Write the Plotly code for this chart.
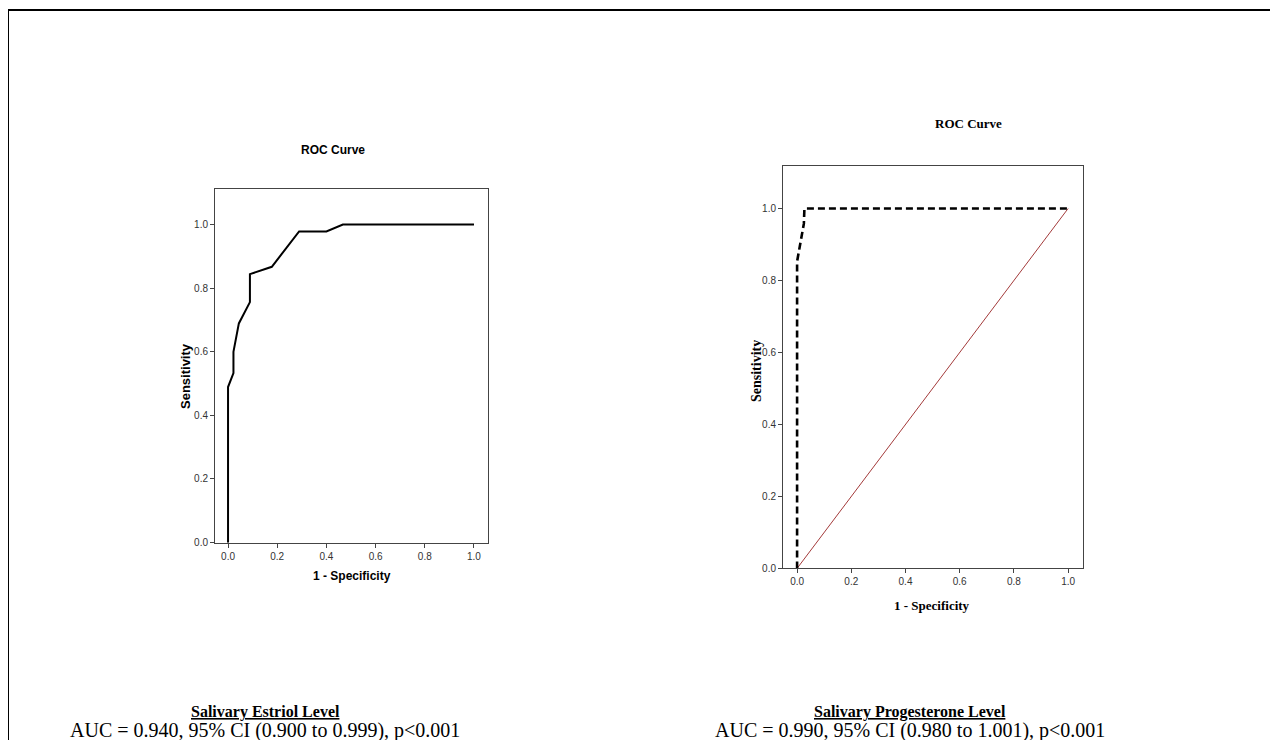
import plotly.graph_objects as go

W, H = 1278, 740
OFF_X, OFF_Y = 8, 8  # page body margin shifts the figure inside the screenshot

# ---- data ----
estriol_fpr = [0.0, 0.0, 0.022, 0.022, 0.044, 0.089, 0.089, 0.178, 0.289, 0.400, 0.467, 1.0]
estriol_tpr = [0.0, 0.489, 0.533, 0.600, 0.689, 0.756, 0.844, 0.867, 0.978, 0.978, 1.0, 1.0]

prog_fpr = [0.0, 0.0, 0.025, 0.027, 1.0]
prog_tpr = [0.0, 0.853, 0.958, 1.0, 1.0]

ref_fpr = [0.0, 1.0]
ref_tpr = [0.0, 1.0]

tick_vals = [0.0, 0.2, 0.4, 0.6, 0.8, 1.0]
tick_text = ["0.0", "0.2", "0.4", "0.6", "0.8", "1.0"]

captions = ["Salivary Estriol Level", "Salivary Progesterone Level"]
auc_texts = ["AUC = 0.940, 95% CI (0.900 to 0.999), p<0.001",
             "AUC = 0.990, 95% CI (0.980 to 1.001), p<0.001"]


def px(x):
    return (x - OFF_X) / W


def py(y):
    return 1 - (y - OFF_Y) / H


NARROW = "Liberation Sans Narrow, Arial Narrow, Liberation Sans, Arial"
SERIF = "Liberation Serif, Times New Roman, serif"
SANS = "Liberation Sans, Arial, sans-serif"

fig = go.Figure()

fig.add_trace(go.Scatter(x=estriol_fpr, y=estriol_tpr, mode="lines",
                         line=dict(color="black", width=2), xaxis="x", yaxis="y",
                         showlegend=False, hoverinfo="skip"))
fig.add_trace(go.Scatter(x=ref_fpr, y=ref_tpr, mode="lines",
                         line=dict(color="#a33a3a", width=1), xaxis="x2", yaxis="y2",
                         showlegend=False, hoverinfo="skip"))
fig.add_trace(go.Scatter(x=prog_fpr, y=prog_tpr, mode="lines",
                         line=dict(color="black", width=2.6, dash="7px,4px"),
                         xaxis="x2", yaxis="y2", showlegend=False, hoverinfo="skip"))

axis_common = dict(showgrid=False, zeroline=False, showline=True, mirror=True,
                   linecolor="#444", linewidth=1, ticks="outside", ticklen=4,
                   tickcolor="#444", tickvals=tick_vals, ticktext=tick_text)

fig.update_layout(
    xaxis=dict(domain=[px(215), px(488)], range=[-0.053, 1.057], anchor="y",
               tickfont=dict(family=NARROW, size=10, color="#333"), **axis_common),
    yaxis=dict(domain=[py(547), py(190)], range=[0, 1.113], anchor="x",
               tickfont=dict(family=NARROW, size=10, color="#333"), **axis_common),
    xaxis2=dict(domain=[px(783), px(1083)], range=[-0.052, 1.055], anchor="y2",
                tickfont=dict(family=NARROW, size=10, color="#333"), **axis_common),
    yaxis2=dict(domain=[py(573), py(167)], range=[0, 1.119], anchor="x2",
                tickfont=dict(family=NARROW, size=10, color="#333"), **axis_common),
)

ann = []
# left panel texts
ann.append(dict(text="<b>ROC Curve</b>", x=px(333), y=py(151), font=dict(family=SANS, size=12)))
ann.append(dict(text="<b>Sensitivity</b>", x=px(186), y=py(379), textangle=-90,
                font=dict(family=SANS, size=13)))
ann.append(dict(text="<b>1 - Specificity</b>", x=px(352), y=py(581), font=dict(family=SANS, size=12)))
# right panel texts
ann.append(dict(text="<b>ROC Curve</b>", x=px(968), y=py(124), font=dict(family=SERIF, size=13)))
ann.append(dict(text="<b>Sensitivity</b>", x=px(756), y=py(374), textangle=-90,
                font=dict(family=SERIF, size=14)))
ann.append(dict(text="<b>1 - Specificity</b>", x=px(932), y=py(610), font=dict(family=SERIF, size=13)))
# captions
for cx, cap, auc in zip([265, 910], captions, auc_texts):
    ann.append(dict(text="<b><u>" + cap + "</u></b>", x=px(cx), y=py(718),
                    font=dict(family=SERIF, size=16)))
    ann.append(dict(text=auc, x=px(cx), y=py(736), font=dict(family=SERIF, size=20)))

for a in ann:
    a.update(xref="paper", yref="paper", showarrow=False, xanchor="center", yanchor="middle",
             font=dict(color="black", **a["font"]))

shapes = [
    dict(type="line", xref="paper", yref="paper", x0=px(8), x1=px(8), y0=py(10), y1=0,
         line=dict(color="black", width=2)),
    dict(type="line", xref="paper", yref="paper", x0=px(8), x1=1, y0=py(10), y1=py(10),
         line=dict(color="black", width=2)),
]

fig.update_layout(width=W, height=H, margin=dict(l=0, r=0, t=0, b=0),
                  paper_bgcolor="white", plot_bgcolor="white",
                  annotations=ann, shapes=shapes, showlegend=False)

fig.write_html("out.html")
